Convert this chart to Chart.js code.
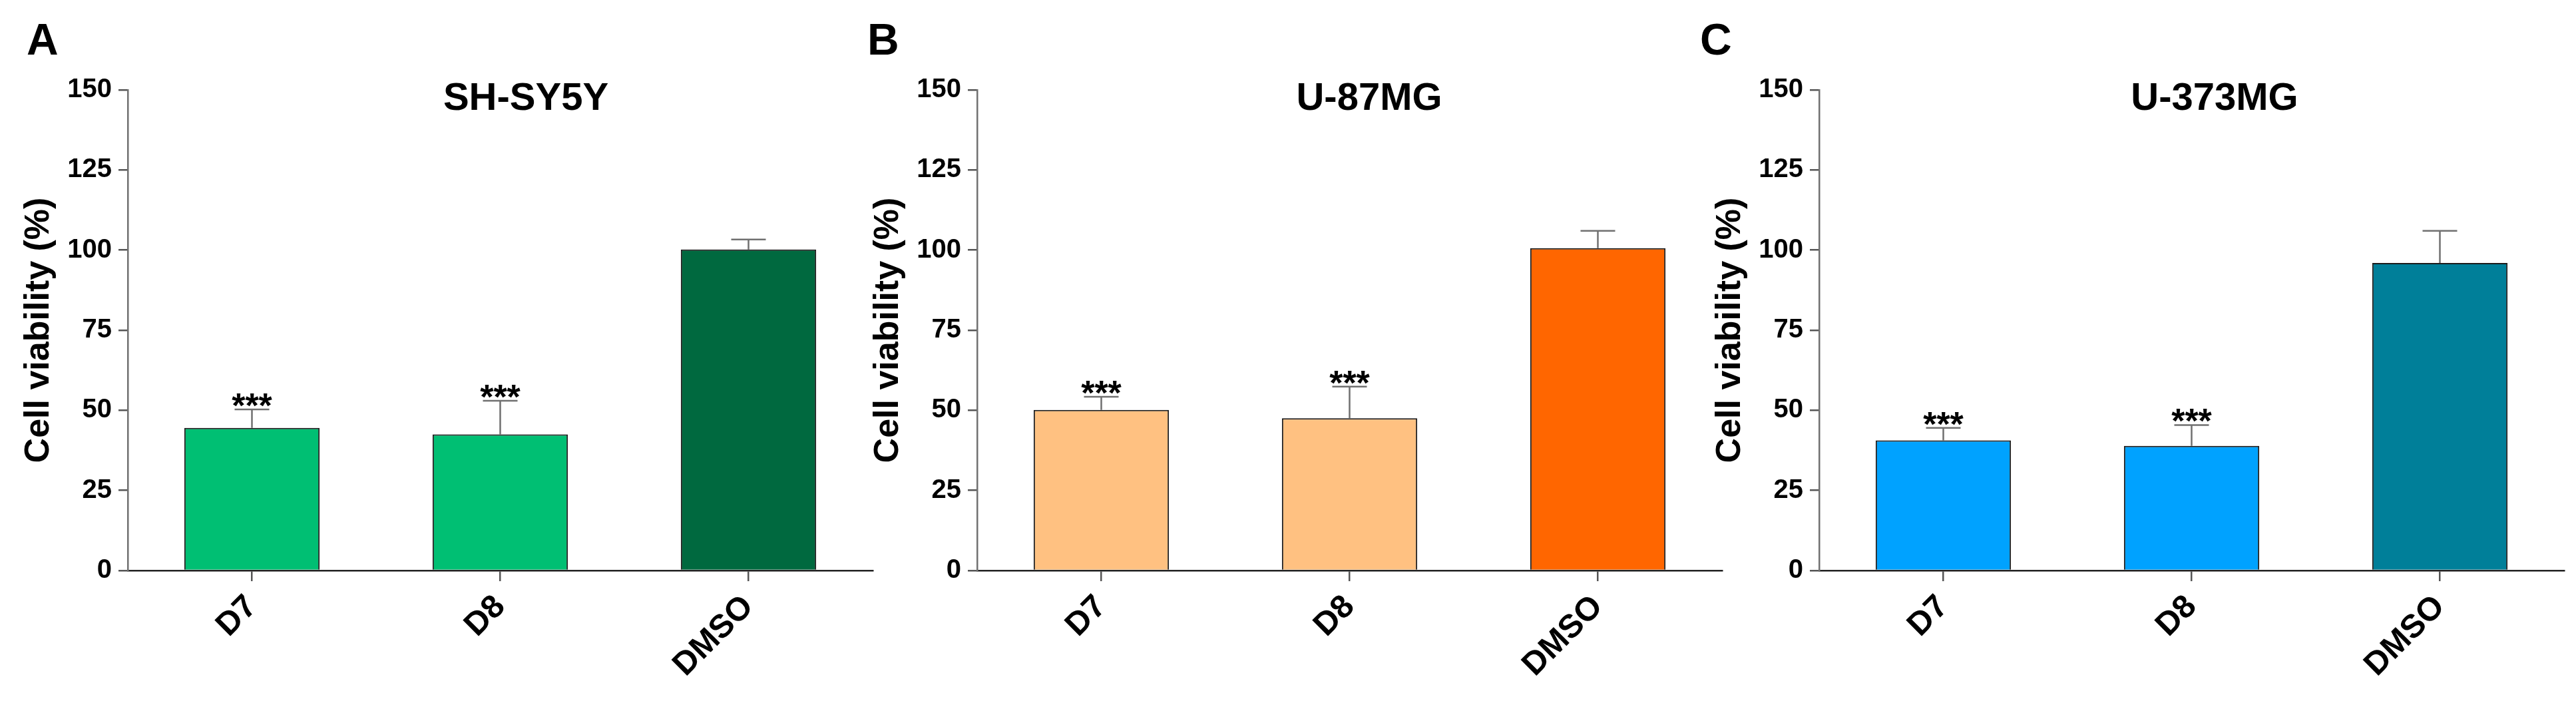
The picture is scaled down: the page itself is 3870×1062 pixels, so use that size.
<!DOCTYPE html>
<html>
<head>
<meta charset="utf-8">
<script src="https://cdn.jsdelivr.net/npm/chart.js@4.4.1/dist/chart.umd.min.js"></script>
<style>
  html, body { margin: 0; padding: 0; background: #ffffff; }
  body { width: 3870px; height: 1062px; position: relative; overflow: hidden; }
  .panel { position: absolute; top: 0; width: 1329px; height: 1062px; }
</style>
</head>
<body>
<div class="panel" style="left:0px"><canvas id="cA" width="1329" height="1062"></canvas></div>
<div class="panel" style="left:1276px"><canvas id="cB" width="1329" height="1062"></canvas></div>
<div class="panel" style="left:2541px"><canvas id="cC" width="1329" height="1062"></canvas></div>
<script>
// ---------------- DATA ----------------
const categories = ['D7', 'D8', 'DMSO'];
const yMin = 0;
const yMax = 150;
const yStep = 25;

const shsy5yMean = [44.5, 42.5, 100.2];
const shsy5yErr  = [5.8, 10.5, 3.1];

const u87Mean = [50.1, 47.5, 100.6];
const u87Err  = [4.1, 9.9, 5.4];

const u373Mean = [40.6, 38.9, 96.0];
const u373Err  = [3.9, 6.5, 10.0];

const significance = ['***', '***', ''];
const panelTitles = ['SH-SY5Y', 'U-87MG', 'U-373MG'];
const panelLetters = ['A', 'B', 'C'];
const yAxisTitle = 'Cell viability (%)';

// ---------------- STYLE ----------------
const FONT = "'Liberation Sans', Arial, Helvetica, sans-serif";

const panels = [
  { canvas: 'cA', mean: shsy5yMean, err: shsy5yErr, title: panelTitles[0], letter: panelLetters[0],
    colors: ['#00BF73', '#00BF73', '#00693F'], letterX: 40, titleX: 790 },
  { canvas: 'cB', mean: u87Mean, err: u87Err, title: panelTitles[1], letter: panelLetters[1],
    colors: ['#FFC181', '#FFC181', '#FF6600'], letterX: 27, titleX: 781 },
  { canvas: 'cC', mean: u373Mean, err: u373Err, title: panelTitles[2], letter: panelLetters[2],
    colors: ['#00A2FF', '#00A2FF', '#007F99'], letterX: 13, titleX: 786 }
];

const decorPlugin = {
  id: 'decor',
  afterDatasetsDraw(chart) {
    const p = chart.options.plugins.decor;
    const ctx = chart.ctx;
    const xs = chart.scales.x, ys = chart.scales.y;
    const data = chart.data.datasets[0].data;
    ctx.save();
    ctx.strokeStyle = '#707070';
    ctx.lineWidth = 2.5;
    data.forEach((v, i) => {
      const px = xs.getPixelForValue(i);
      const y0 = ys.getPixelForValue(v);
      const y1 = ys.getPixelForValue(v + p.err[i]);
      ctx.beginPath();
      ctx.moveTo(px, y0);
      ctx.lineTo(px, y1);
      ctx.moveTo(px - 26, y1);
      ctx.lineTo(px + 26, y1);
      ctx.stroke();
      if (p.sig[i]) {
        ctx.fillStyle = '#000';
        ctx.font = 'bold 52px ' + FONT;
        ctx.textAlign = 'center';
        ctx.textBaseline = 'alphabetic';
        const m = ctx.measureText(p.sig[i]);
        const yb = y1 - 4 - m.actualBoundingBoxDescent;
        ctx.fillText(p.sig[i], px, yb);
      }
    });
    ctx.restore();
  },
  afterDraw(chart) {
    const p = chart.options.plugins.decor;
    const ctx = chart.ctx;
    ctx.save();
    ctx.fillStyle = '#000';
    ctx.textBaseline = 'alphabetic';
    // panel letter
    ctx.font = 'bold 66px ' + FONT;
    ctx.textAlign = 'left';
    ctx.fillText(p.letter, p.letterX, 82);
    // panel title
    ctx.font = 'bold 58px ' + FONT;
    ctx.textAlign = 'center';
    ctx.fillText(p.title, p.titleX, 165);
    ctx.restore();
  }
};

panels.forEach(pn => {
  new Chart(document.getElementById(pn.canvas), {
    type: 'bar',
    data: {
      labels: categories,
      datasets: [{
        data: pn.mean,
        backgroundColor: pn.colors,
        borderColor: '#1c1c1c',
        borderWidth: 2,
        borderSkipped: 'start',
        categoryPercentage: 1.0,
        barPercentage: 0.545
      }]
    },
    options: {
      responsive: false,
      animation: false,
      devicePixelRatio: 1,
      layout: { padding: { left: 0, right: 18, top: 135, bottom: 0 } },
      plugins: {
        legend: { display: false },
        title: { display: false },
        tooltip: { enabled: false },
        decor: { err: pn.err, sig: significance, title: pn.title, letter: pn.letter,
                 letterX: pn.letterX, titleX: pn.titleX }
      },
      scales: {
        x: {
          type: 'category',
          offset: true,
          grid: { display: true, offset: false, drawOnChartArea: false, drawTicks: true,
                  tickLength: 16, tickColor: '#555555', lineWidth: 2.5 },
          border: { display: true, color: '#222222', width: 2.5 },
          ticks: { color: '#000000', minRotation: 45, maxRotation: 45, padding: 10,
                   font: { family: FONT, size: 49, weight: 'bold' } },
          afterFit(scale) { scale.height = 205; }
        },
        y: {
          min: yMin, max: yMax,
          grid: { display: true, drawOnChartArea: false, drawTicks: true,
                  tickLength: 14, tickColor: '#555555', lineWidth: 2.5 },
          border: { display: true, color: '#707070', width: 2.5 },
          ticks: { stepSize: yStep, color: '#000000', padding: 10,
                   font: { family: FONT, size: 40, weight: 'bold' } },
          title: { display: true, text: yAxisTitle, color: '#000000',
                   font: { family: FONT, size: 52, weight: 'bold' },
                   padding: { top: 27, bottom: 0 } },
          afterFit(scale) { scale.width = 192; }
        }
      }
    },
    plugins: [decorPlugin]
  });
});
</script>
</body>
</html>
